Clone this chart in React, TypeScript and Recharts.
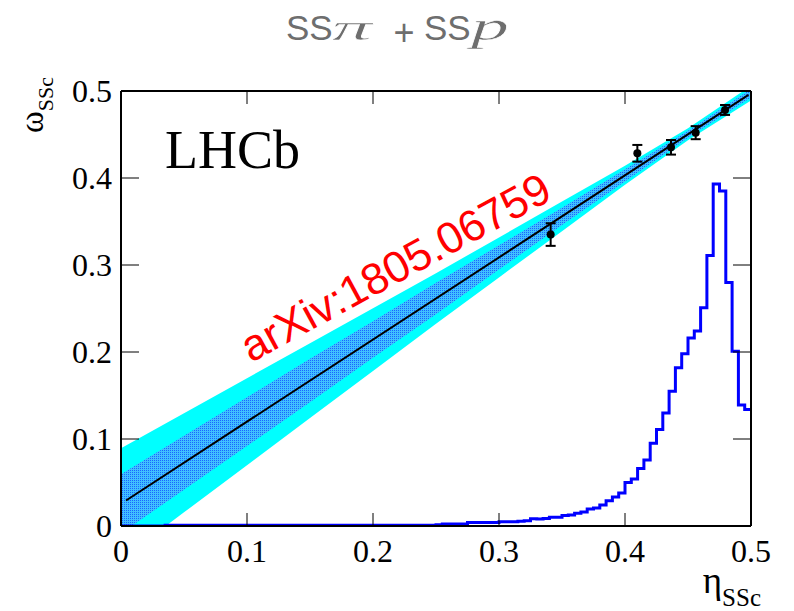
import React from 'react';
import {
  ComposedChart, Line, Area, Scatter, ErrorBar, XAxis, YAxis,
} from 'recharts';

// ---- data ----
const xTicks = [0, 0.1, 0.2, 0.3, 0.4, 0.5];
const yTicks = [0, 0.1, 0.2, 0.3, 0.4, 0.5];
const xTickLabels = ['0', '0.1', '0.2', '0.3', '0.4', '0.5'];
const yTickLabels = ['0', '0.1', '0.2', '0.3', '0.4', '0.5'];

// calibration band sample positions (eta)
const bandEta = [0, 0.05, 0.1, 0.15, 0.2, 0.25, 0.3, 0.35, 0.4, 0.45, 0.5];
const outerLow = [-0.0385, 0.0157, 0.0699, 0.1241, 0.1783, 0.2325, 0.2857, 0.3389, 0.3921, 0.4433, 0.489];
const outerHigh = [0.0895, 0.1297, 0.1699, 0.2101, 0.2503, 0.2905, 0.3317, 0.3729, 0.4141, 0.4573, 0.506];
const innerLow = [-0.0085, 0.0417, 0.0919, 0.1421, 0.1933, 0.2435, 0.2947, 0.3459, 0.3961, 0.4463, 0.4925];
const innerHigh = [0.0595, 0.1037, 0.1479, 0.1921, 0.2353, 0.2795, 0.3227, 0.3659, 0.4101, 0.4543, 0.5025];

// fitted calibration line
const fitEta = [0.004, 0.498];
const fitOmega = [0.0293, 0.4956];

// measured points
const pointEta = [0.341, 0.4098, 0.4365, 0.4561, 0.4794];
const pointOmega = [0.335, 0.4284, 0.4353, 0.4521, 0.4782];
const pointErr = [0.013, 0.0096, 0.0084, 0.0075, 0.0057];

// eta distribution histogram, 100 bins on [0, 0.5]
const histBinWidth = 0.005;
const histValues = [
  0, 0, 0, 0, 0, 0, 0, 0.001, 0.001, 0.001,
  0.001, 0.001, 0.001, 0.001, 0.001, 0.001, 0.001, 0.001, 0.001, 0.001,
  0.001, 0.001, 0.001, 0.001, 0.001, 0.001, 0.001, 0.001, 0.001, 0.001,
  0.001, 0.001, 0.001, 0.001, 0.001, 0.001, 0.001, 0.001, 0.001, 0.001,
  0.001, 0.001, 0.001, 0.001, 0.001, 0.001, 0.001, 0.001, 0.001, 0.001,
  0.0015, 0.0022, 0.0022, 0.0022, 0.0022, 0.004, 0.004, 0.004, 0.004, 0.004,
  0.005, 0.005, 0.005, 0.0055, 0.006, 0.0084, 0.008, 0.0086, 0.010, 0.010,
  0.012, 0.0127, 0.0146, 0.016, 0.0195, 0.0207, 0.024, 0.029, 0.0333, 0.038,
  0.050, 0.054, 0.066, 0.076, 0.095, 0.111, 0.130, 0.155, 0.182, 0.198,
  0.216, 0.224, 0.251, 0.311, 0.393, 0.385, 0.280, 0.201, 0.139, 0.134,
];

// ---- derived tables ----
const bandData = bandEta.map((x, i) => ({
  x,
  outer: [outerLow[i], outerHigh[i]],
  inner: [innerLow[i], innerHigh[i]],
}));
const fitData = fitEta.map((x, i) => ({ x, fit: fitOmega[i] }));
const pointData = pointEta.map((x, i) => ({ x, y: pointOmega[i], err: pointErr[i] }));
const histData = histValues
  .map((h, i) => ({ x: i * histBinWidth, h }))
  .concat([{ x: histValues.length * histBinWidth, h: histValues[histValues.length - 1] }]);

const W = 794;
const H = 611;
// plot area: x 121..751, y 91..526
const M = { top: 81, right: 33, bottom: 45, left: 61 };

const serif = '"Liberation Serif", "Times New Roman", serif';
const sans = '"Liberation Sans", Arial, Helvetica, sans-serif';
const titleGray = '#6e6e6e';

const BottomTick = (props: any) => {
  const { x, y, payload, index } = props;
  return (
    <g>
      <line x1={x} x2={x} y1={y} y2={y - 13} stroke="#000" strokeWidth={1} />
      <text x={x} y={y + 36} textAnchor="middle" fontFamily={serif} fontSize={32} fill="#000">
        {xTickLabels[index] ?? String(payload.value)}
      </text>
    </g>
  );
};
const TopTick = (props: any) => {
  const { x, y } = props;
  return <line x1={x} x2={x} y1={y} y2={y + 13} stroke="#000" strokeWidth={1} />;
};
const LeftTick = (props: any) => {
  const { x, y, payload, index } = props;
  return (
    <g>
      <line x1={x} x2={x + 18} y1={y} y2={y} stroke="#000" strokeWidth={1} />
      <text x={x - 9} y={y + 11} textAnchor="end" fontFamily={serif} fontSize={32} fill="#000">
        {yTickLabels[index] ?? String(payload.value)}
      </text>
    </g>
  );
};
const RightTick = (props: any) => {
  const { x, y } = props;
  return <line x1={x} x2={x - 18} y1={y} y2={y} stroke="#000" strokeWidth={1} />;
};

const Dot = (props: any) => {
  const { cx, cy } = props;
  if (cx == null || cy == null) return null;
  return <circle cx={cx} cy={cy} r={4} fill="#000" />;
};

export default function App() {
  return (
    <div style={{ position: 'absolute', left: 0, top: 0, width: W, height: H, background: '#fff' }}>
      <svg width={0} height={0} style={{ position: 'absolute' }}>
        <defs>
          <pattern id="dotfill" x={0} y={0} width={2} height={2} patternUnits="userSpaceOnUse">
            <rect x={0} y={0} width={2} height={2} fill="#40c0ff" />
            <rect x={0} y={0} width={1} height={1} fill="#1a66ff" />
          </pattern>
        </defs>
      </svg>
      <ComposedChart width={W} height={H} margin={M}>
        <Line
          xAxisId="b" yAxisId="l" data={histData} dataKey="h" type="stepAfter"
          stroke="#0000ff" strokeWidth={3} dot={false} isAnimationActive={false}
        />
        <Area
          xAxisId="b" yAxisId="l" data={bandData} dataKey="outer" type="linear"
          stroke="none" fill="#00ffff" fillOpacity={1} isAnimationActive={false}
        />
        <Area
          xAxisId="b" yAxisId="l" data={bandData} dataKey="inner" type="linear"
          stroke="none" fill="url(#dotfill)" fillOpacity={1} isAnimationActive={false}
        />
        <Line
          xAxisId="b" yAxisId="l" data={fitData} dataKey="fit" type="linear"
          stroke="#000" strokeWidth={2} dot={false} isAnimationActive={false}
        />
        <Scatter
          xAxisId="b" yAxisId="l" data={pointData} dataKey="y" shape={<Dot />}
          isAnimationActive={false}
        >
          <ErrorBar dataKey="err" direction="y" width={5} stroke="#000" strokeWidth={2} isAnimationActive={false} />
        </Scatter>
        <XAxis
          xAxisId="b" type="number" dataKey="x" domain={[0, 0.5]} ticks={xTicks}
          allowDataOverflow height={40} tickSize={0} tickMargin={0} tickLine={false}
          axisLine={{ stroke: '#000', strokeWidth: 2 }} tick={<BottomTick />} interval={0}
        />
        <XAxis
          xAxisId="t" orientation="top" type="number" dataKey="x" domain={[0, 0.5]} ticks={xTicks}
          allowDataOverflow height={10} tickSize={0} tickMargin={0} tickLine={false}
          axisLine={{ stroke: '#000', strokeWidth: 2 }} tick={<TopTick />} interval={0}
        />
        <YAxis
          yAxisId="l" type="number" domain={[0, 0.5]} ticks={yTicks}
          allowDataOverflow width={60} tickSize={0} tickMargin={0} tickLine={false}
          axisLine={{ stroke: '#000', strokeWidth: 2 }} tick={<LeftTick />} interval={0}
        />
        <YAxis
          yAxisId="r" orientation="right" type="number" domain={[0, 0.5]} ticks={yTicks}
          allowDataOverflow width={10} tickSize={0} tickMargin={0} tickLine={false}
          axisLine={{ stroke: '#000', strokeWidth: 2 }} tick={<RightTick />} interval={0}
        />
      </ComposedChart>

      <svg width={W} height={H} style={{ position: 'absolute', left: 0, top: 0, pointerEvents: 'none' }}>
        <g fill={titleGray}>
          <text x={286} y={39.5} fontFamily={sans} fontSize={35}>SS</text>
          <text x={332} y={39.5} fontFamily={serif} fontStyle="italic" fontSize={36} textLength={40}
            lengthAdjust="spacingAndGlyphs" stroke="#fff" strokeWidth={0.5}>π</text>
          <text x={404} y={45} textAnchor="middle" fontFamily={sans} fontSize={36}>+</text>
          <text x={424} y={39.5} fontFamily={sans} fontSize={35}>SS</text>
          <text x={471} y={39.5} fontFamily={serif} fontStyle="italic" fontSize={42} textLength={38}
            lengthAdjust="spacingAndGlyphs" stroke="#fff" strokeWidth={0.5}>p</text>
        </g>
        <text x={165} y={168} fill="#000" fontFamily={serif} fontSize={54}>LHCb</text>
        <text
          transform="translate(251, 363) rotate(-28.5)" fill="#ff0000" fontFamily={sans} fontSize={44}
        >arXiv:1805.06759</text>
        <text transform="translate(43, 77) rotate(-90)" textAnchor="end" fill="#000" fontFamily={serif} fontSize={33}>
          ω<tspan dy={10} fontSize={22}>SSc</tspan>
        </text>
        <text x={761} y={593} textAnchor="end" fill="#000" fontFamily={serif} fontSize={37}>
          η<tspan dy={13} fontSize={25}>SSc</tspan>
        </text>
      </svg>
    </div>
  );
}
